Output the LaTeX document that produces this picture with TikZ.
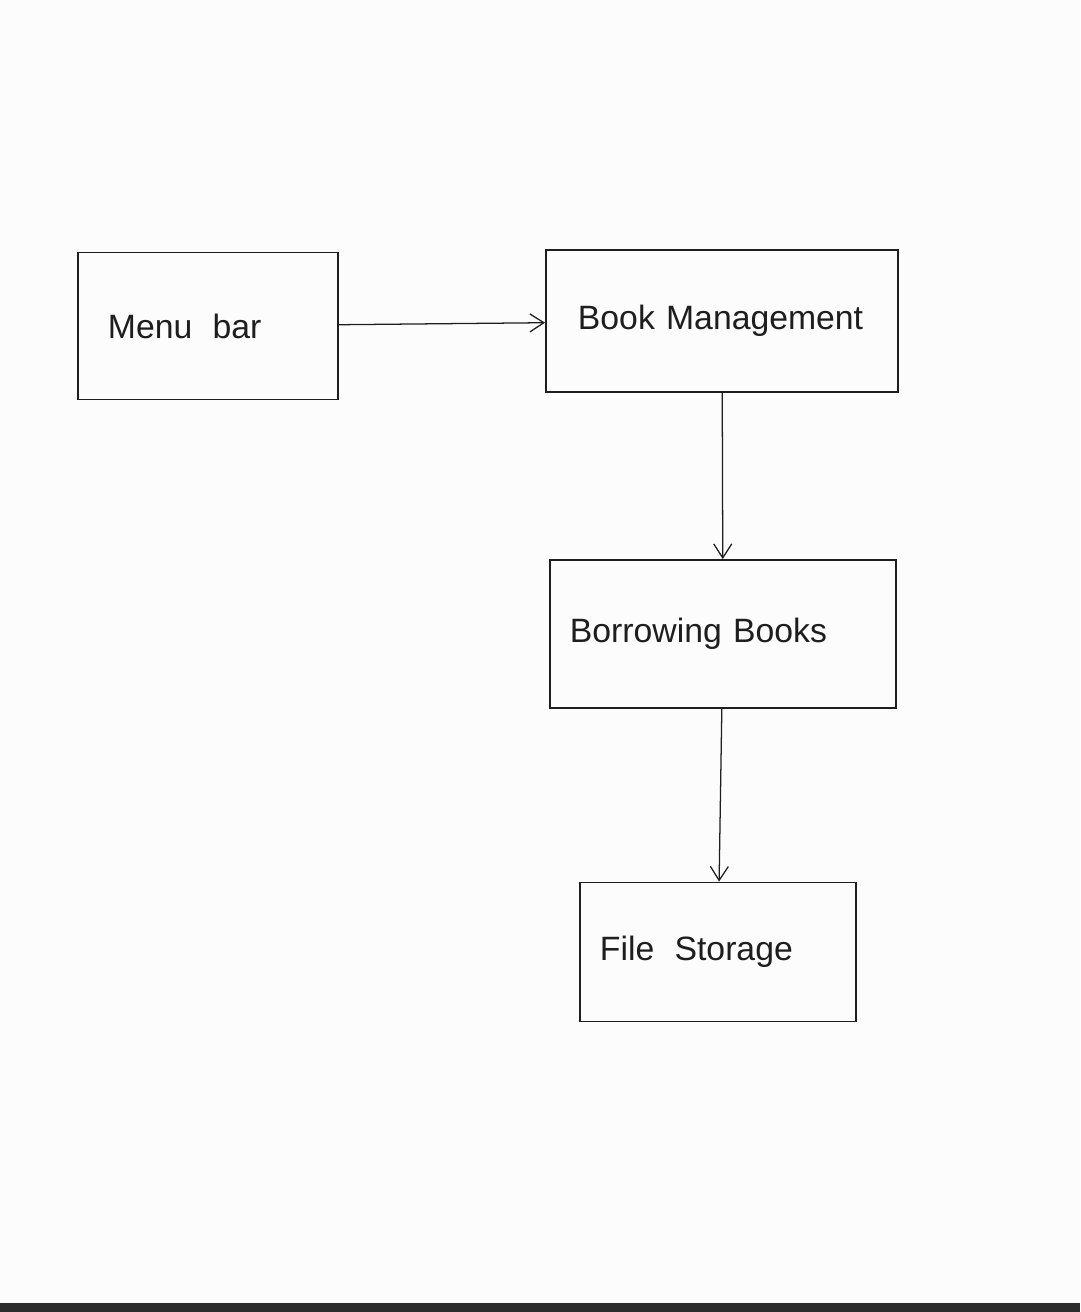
\documentclass[tikz,border=0pt]{standalone}
\usepackage{fontspec}
\setmainfont{Liberation Sans}
\usepackage{xcolor}
\usetikzlibrary{arrows.meta, positioning}
\definecolor{inkColor}{RGB}{30, 30, 30}
\definecolor{paperColor}{RGB}{252, 252, 252}
\definecolor{stripColor}{RGB}{45, 45, 45}

\begin{document}
\begin{tikzpicture}[x=0.025cm, y=-0.025cm,
    blockbox/.style={draw=inkColor, line width=1.3pt, align=left, text=inkColor,
        font=\fontsize{24}{28}\selectfont},
    flowarrow/.style={-{Straight Barb[length=3.5mm, width=4.5mm]}, line width=0.9pt, inkColor}]
            % Page
            \fill[paperColor] (0,0) rectangle (1080,1312);
            \fill[stripColor] (0,1303) rectangle (1080,1312);
            \useasboundingbox (0,0) rectangle (1080,1312);

            % Menu bar box
            \node[blockbox, text width=5cm, inner xsep=0.75cm, minimum height=3.675cm] at (208,326) (menu) {Menu\hspace{0.6em}bar};

            % Book Management box
            \node[blockbox, text width=7.2cm, inner xsep=0.8cm, minimum height=3.55cm] at (722,321) (book) {Book Management};

            % Borrowing Books box
            \node[blockbox, text width=7.65cm, inner xsep=0.5cm, minimum height=3.7cm] at (723,634) (borrow) {Borrowing Books};

            % File Storage box
            \node[blockbox, text width=5.9cm, inner xsep=0.5cm, minimum height=3.475cm] at (718,952) (storage) {File\hspace{0.6em}Storage};

            % Arrows
            \draw[flowarrow] (menu) -- (book);
            \draw[flowarrow] (book) -- (borrow);
            \draw[flowarrow] (borrow) -- (storage);
        \end{tikzpicture}
\end{document}
